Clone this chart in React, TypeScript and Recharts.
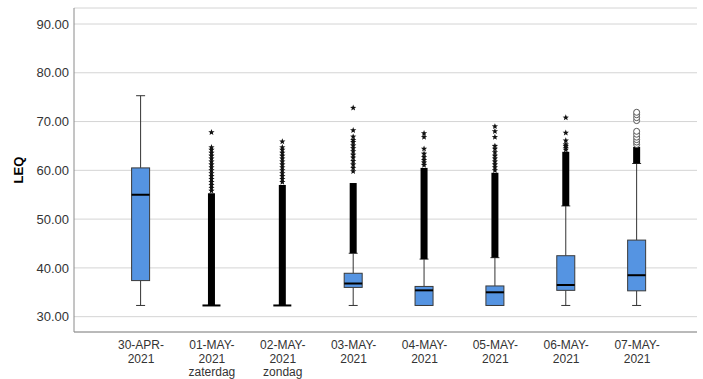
import React from 'react';
import { ComposedChart, Bar, XAxis, YAxis, CartesianGrid } from 'recharts';

const categories = ['30-APR-2021', '01-MAY-2021', '02-MAY-2021', '03-MAY-2021', '04-MAY-2021', '05-MAY-2021', '06-MAY-2021', '07-MAY-2021'];
const tickLines = [
  ['30-APR-', '2021'],
  ['01-MAY-', '2021', 'zaterdag'],
  ['02-MAY-', '2021', 'zondag'],
  ['03-MAY-', '2021'],
  ['04-MAY-', '2021'],
  ['05-MAY-', '2021'],
  ['06-MAY-', '2021'],
  ['07-MAY-', '2021'],
];
const yTicks = [30, 40, 50, 60, 70, 80, 90];

const minVals = [32.3, 32.3, 32.3, 32.3, 32.3, 32.3, 32.3, 32.3];
const q1Vals = [37.4, 32.3, 32.3, 36.0, 32.3, 32.3, 35.4, 35.3];
const medianVals = [55.0, 32.3, 32.3, 36.8, 35.4, 35.0, 36.5, 38.5];
const q3Vals = [60.5, 32.3, 32.3, 38.9, 36.2, 36.3, 42.5, 45.7];
const whiskerHighVals = [75.3, 32.3, 32.3, 43.0, 41.8, 42.1, 52.7, 61.4];
const denseLowVals = [null, 32.3, 32.3, 43.0, 41.8, 42.1, 52.7, 61.4];
const denseHighVals = [null, 55.3, 57.0, 57.4, 60.5, 59.5, 63.8, 64.8];
const starOutliers = [
  [],
  [55.8, 56.4, 57.0, 57.6, 58.2, 58.8, 59.4, 60.0, 60.6, 61.2, 61.8, 62.4, 63.0, 63.6, 64.2, 64.7, 67.8],
  [57.6, 58.2, 58.8, 59.4, 60.0, 60.6, 61.2, 61.8, 62.4, 63.0, 63.6, 64.2, 64.7, 65.9],
  [59.8, 60.5, 61.2, 61.9, 62.6, 63.2, 63.9, 64.5, 65.1, 65.8, 66.2, 66.9, 68.2, 72.8],
  [61.1, 61.6, 62.1, 62.7, 63.4, 64.4, 66.8, 67.6],
  [60.0, 60.6, 61.2, 61.8, 62.4, 63.0, 63.7, 64.4, 65.0, 66.8, 68.0, 69.0],
  [64.2, 64.6, 65.0, 65.3, 66.1, 67.7, 70.8],
  [],
];
const circleOutliers = [[], [], [], [], [], [], [], [65.3, 65.8, 66.3, 66.8, 67.4, 68.0, 70.2, 70.8, 71.4, 71.9]];

const data = categories.map((name, i) => {
  const top = Math.max(whiskerHighVals[i], denseHighVals[i] ?? 0, ...starOutliers[i], ...circleOutliers[i]);
  return {
    name,
    min: minVals[i],
    q1: q1Vals[i],
    median: medianVals[i],
    q3: q3Vals[i],
    whiskerHigh: whiskerHighVals[i],
    denseLow: denseLowVals[i],
    denseHigh: denseHighVals[i],
    stars: starOutliers[i],
    circles: circleOutliers[i],
    top,
    range: [minVals[i], top],
  };
});

const BOX_FILL = '#5594e2';

const starPath = (cx: number, cy: number, R: number, r: number) => {
  let d = '';
  for (let k = 0; k < 10; k++) {
    const rad = k % 2 === 0 ? R : r;
    const a = -Math.PI / 2 + (k * Math.PI) / 5;
    d += (k === 0 ? 'M' : 'L') + (cx + rad * Math.cos(a)).toFixed(2) + ',' + (cy + rad * Math.sin(a)).toFixed(2);
  }
  return d + 'Z';
};

const BoxShape = (props: any) => {
  const { x, y, width, height, payload } = props;
  if (payload == null) return null;
  const top = Math.min(y, y + height);
  const bot = Math.max(y, y + height);
  const vLo = payload.min;
  const vHi = payload.top;
  const py = (v: number) => bot - ((v - vLo) / (vHi - vLo)) * (bot - top);
  const cx = x + width / 2;
  const capHalf = width / 4;
  const yMin = py(payload.min);
  const yQ1 = py(payload.q1);
  const yMed = py(payload.median);
  const yQ3 = py(payload.q3);
  const yHi = py(payload.whiskerHigh);
  return (
    <g>
      <line x1={cx} x2={cx} y1={yMin} y2={yQ1} stroke="#333" strokeWidth={1} />
      <line x1={cx} x2={cx} y1={yQ3} y2={yHi} stroke="#333" strokeWidth={1} />
      <line x1={cx - capHalf} x2={cx + capHalf} y1={yMin} y2={yMin} stroke="#333" strokeWidth={1} />
      <line x1={cx - capHalf} x2={cx + capHalf} y1={yHi} y2={yHi} stroke="#333" strokeWidth={1} />
      <rect x={x} y={yQ3} width={width} height={Math.max(0, yQ1 - yQ3)} fill={BOX_FILL} stroke="#3a3a3a" strokeWidth={1} />
      <line x1={x} x2={x + width} y1={yMed} y2={yMed} stroke="#000" strokeWidth={2} />
      {payload.denseLow != null && (
        <rect x={cx - 3.5} y={py(payload.denseHigh)} width={7} height={py(payload.denseLow) - py(payload.denseHigh)} fill="#000" />
      )}
      {payload.stars.map((v: number, k: number) => (
        <path key={'s' + k} d={starPath(cx, py(v), 3.3, 1.4)} fill="#111" />
      ))}
      {payload.circles.map((v: number, k: number) => (
        <circle key={'c' + k} cx={cx} cy={py(v)} r={3} fill="#fff" stroke="#555" strokeWidth={1} />
      ))}
    </g>
  );
};

const XTick = (props: any) => {
  const { x, y, payload } = props;
  const idx = categories.indexOf(payload.value);
  const lines = idx >= 0 ? tickLines[idx] : [String(payload.value)];
  return (
    <text x={x} y={y} textAnchor="middle" fill="#333" fontSize={12} fontFamily="'Liberation Sans', Arial, sans-serif">
      {lines.map((l, k) => (
        <tspan key={k} x={x} y={y + 17 + k * 13.5}>
          {l}
        </tspan>
      ))}
    </text>
  );
};

const YLabel = (props: any) => {
  const vb = props.viewBox || { y: 8, height: 324 };
  const cy = vb.y + vb.height / 2;
  return (
    <text x={18} y={cy} transform={`rotate(-90 18 ${cy})`} textAnchor="middle" dominantBaseline="central" fontSize={13} fontWeight="bold" fill="#000" fontFamily="'Liberation Sans', Arial, sans-serif">
      LEQ
    </text>
  );
};

export default function App() {
  return (
    <div style={{ position: 'absolute', left: 0, top: 0, width: 703, height: 379, background: '#fff' }}>
      <ComposedChart width={703} height={379} data={data} margin={{ top: 8, right: 6, bottom: 0, left: 0 }}>
        <CartesianGrid horizontal vertical={false} stroke="#d4d4d4" strokeWidth={1} />
        <XAxis
          dataKey="name"
          type="category"
          interval={0}
          padding={{ left: 31.6, right: 24.5 }}
          axisLine={{ stroke: '#8a8a8a', strokeWidth: 1 }}
          tickLine={false}
          tickSize={0}
          tickMargin={0}
          height={47}
          tick={<XTick />}
        />
        <YAxis
          type="number"
          domain={[26.86, 93.28]}
          ticks={yTicks}
          allowDataOverflow
          width={74}
          tickFormatter={(v: number) => v.toFixed(2)}
          axisLine={{ stroke: '#8a8a8a', strokeWidth: 1 }}
          tickLine={false}
          tickSize={0}
          tickMargin={5}
          tick={{ fill: '#333', fontSize: 13, fontFamily: "'Liberation Sans', Arial, sans-serif" }}
          label={<YLabel />}
        />
        <Bar dataKey="range" barSize={18} shape={BoxShape} isAnimationActive={false} />
      </ComposedChart>
    </div>
  );
}
